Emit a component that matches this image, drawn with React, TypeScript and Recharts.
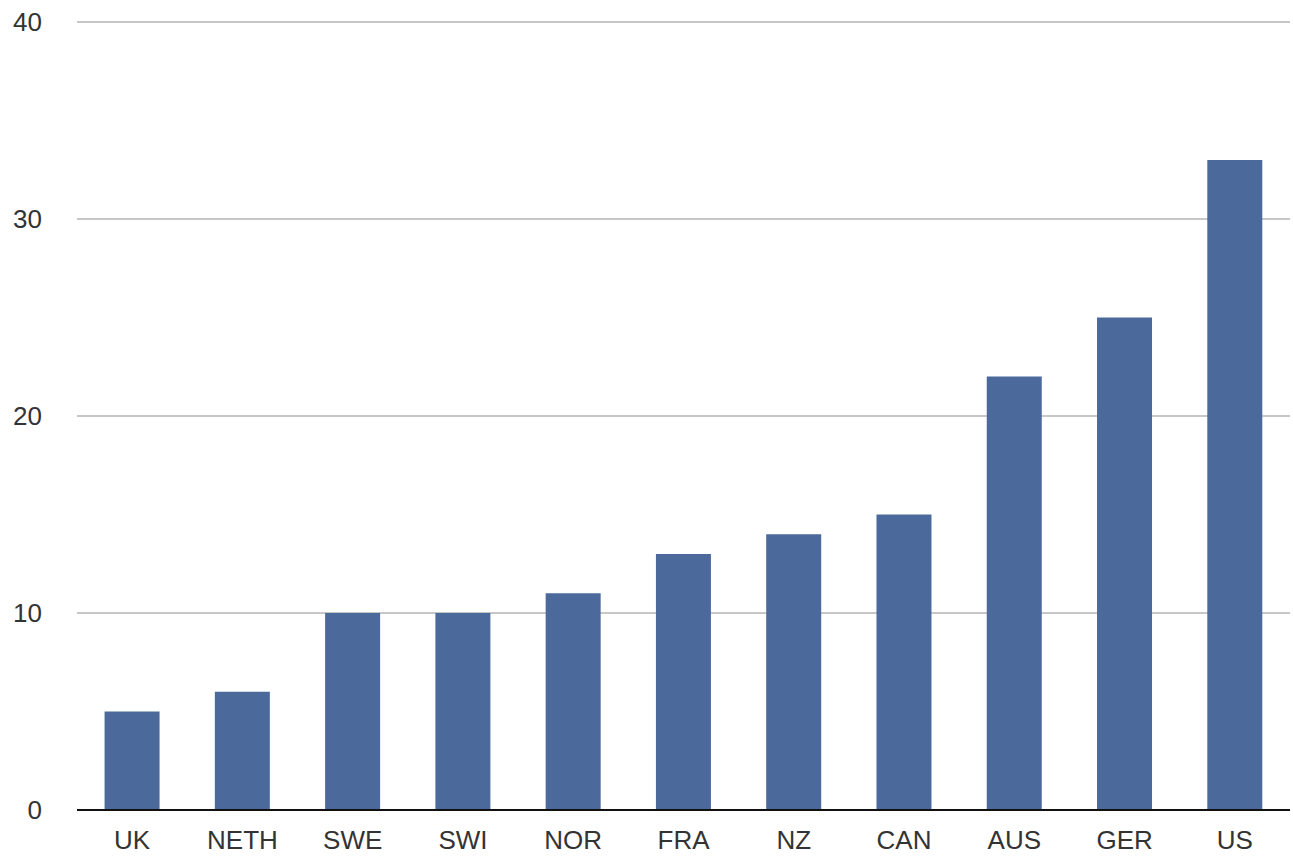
import React from "react";
import { BarChart, Bar, XAxis, YAxis, CartesianGrid } from "recharts";

const countries = ["UK", "NETH", "SWE", "SWI", "NOR", "FRA", "NZ", "CAN", "AUS", "GER", "US"];
const values = [5, 6, 10, 10, 11, 13, 14, 15, 22, 25, 33];
const yTicks = [0, 10, 20, 30, 40];

const data = countries.map((name, i) => ({ name, value: values[i] }));

export default function App() {
    const tickStyle = { fill: "#333", fontSize: 26, fontFamily: "Liberation Sans, Arial, sans-serif" };
    return (
        <div style={{ position: "absolute", left: 0, top: 0, background: "#fff" }}>
            <BarChart
                width={1293}
                height={856}
                data={data}
                margin={{ top: 22, right: 3, bottom: 0, left: 0 }}
                barCategoryGap="25%"
            >
                <CartesianGrid vertical={false} stroke="#b4b4b4" strokeWidth={1.5} />
                <XAxis
                    dataKey="name"
                    height={46}
                    tickLine={false}
                    tickSize={0}
                    tickMargin={21}
                    axisLine={{ stroke: "#111", strokeWidth: 2 }}
                    tick={tickStyle}
                    interval={0}
                />
                <YAxis
                    width={77}
                    domain={[0, 40]}
                    ticks={yTicks}
                    axisLine={false}
                    tickLine={false}
                    tickSize={0}
                    tickMargin={35}
                    tick={tickStyle}
                />
                <Bar dataKey="value" fill="#4b6a9b" isAnimationActive={false} />
            </BarChart>
        </div>
    );
}
